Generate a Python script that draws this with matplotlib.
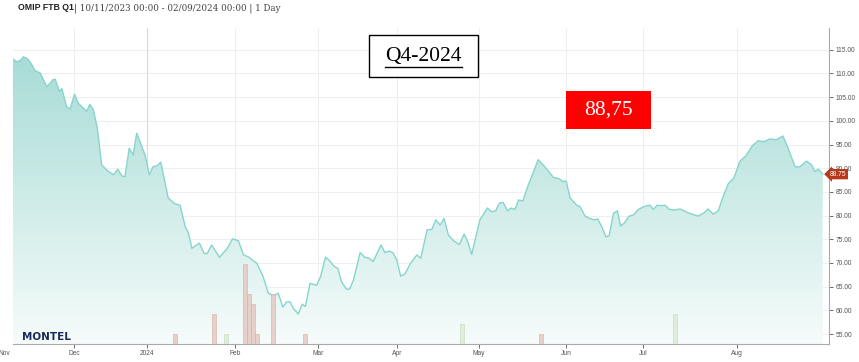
import matplotlib
matplotlib.use("Agg")
import matplotlib.pyplot as plt
import matplotlib.transforms as mtransforms
from matplotlib.patches import Rectangle
import numpy as np

# Price series on a trading-session axis (0 = 10/11/2023)
session = [0, 0.9, 1.8, 2.6, 3.5, 4.3, 5.6, 6.9, 8.6, 10.2, 10.7, 11.8, 12.4, 13.6, 14.5,
           15.6, 16.6, 18.7, 19.5, 20.4, 21.4, 22.5, 23.8, 25.5, 26.6, 27.6, 28.4, 29.5,
           30.5, 31.4, 32.7, 33.5, 34.6, 35.5, 36.5, 37.5, 39.4, 41.1, 42.4, 43.7, 44.5,
           45.4, 47.3, 48.5, 49.3, 50.4, 52.4, 54.4, 55.7, 57.2, 58.5, 59.7, 61.9, 63.5,
           64.8, 66.1, 67.3, 68.5, 69.5, 70.3, 71.1, 72.4, 73.4, 74.2, 75.4, 77.1, 78.1,
           79.3, 80.1, 81.5, 82.4, 83.4, 84.7, 85.5, 86.4, 88.1, 89.3, 90.4, 91.4, 93.4,
           94.4, 95.5, 96.4, 97.4, 98.4, 99.5, 100.8, 102.5, 103.5, 105.1, 106.3, 107.3,
           108.4, 109.4, 110.5, 111.8, 113.3, 114.5, 115.4, 116.4, 117.3, 118.5, 120.4,
           121.5, 122.5, 123.4, 124.4, 125.5, 126.4, 127.4, 128.3, 129.4, 130.4, 131.6,
           133.3, 135.0, 137.1, 138.8, 139.5, 140.4, 141.4, 143.1, 143.9, 145.2, 146.4,
           147.5, 148.4, 149.4, 150.5, 151.3, 152.4, 153.4, 154.2, 155.1, 156.4, 157.4,
           158.7, 160.4, 161.7, 162.5, 163.5, 164.6, 165.5, 166.6, 168.0, 169.3, 170.8,
           172.3, 173.9, 175.4, 176.4, 177.7, 179.0, 180.0, 181.5, 183.0, 184.5, 186.0,
           187.6, 189.1, 190.6, 192.1, 193.7, 195.4, 196.4, 198.5, 199.7, 201.4, 202.7,
           203.5, 204.4, 205.5]
price = [113.0, 112.5, 112.7, 113.5, 113.2, 112.5, 110.6, 110.1, 107.2, 108.7, 108.8,
         106.2, 106.8, 103.0, 102.5, 105.6, 103.7, 102.0, 103.5, 102.3, 98.5, 90.7, 89.6,
         88.6, 89.8, 88.4, 88.2, 94.2, 92.8, 97.4, 94.6, 92.8, 88.6, 90.3, 90.5, 91.3,
         83.7, 82.5, 82.2, 77.7, 76.4, 73.1, 74.2, 72.0, 72.0, 73.8, 71.2, 73.1, 75.1,
         74.7, 71.7, 71.3, 69.9, 67.1, 63.6, 63.1, 63.6, 60.7, 61.8, 61.8, 60.5, 59.2,
         61.3, 60.8, 65.7, 65.3, 67.2, 71.2, 70.7, 69.3, 68.9, 66.0, 64.4, 64.6, 66.4,
         72.2, 71.2, 71.0, 70.3, 73.8, 72.2, 72.5, 72.2, 70.6, 67.2, 67.7, 69.8, 71.7,
         71.0, 77.0, 77.1, 79.1, 78.0, 79.4, 75.9, 74.7, 73.9, 76.1, 74.5, 71.8, 74.9,
         79.1, 81.6, 80.8, 81.0, 82.6, 82.8, 81.0, 81.6, 81.3, 83.3, 83.1, 85.6, 88.2,
         91.8, 90.3, 88.1, 87.7, 87.2, 87.3, 83.7, 82.2, 81.9, 79.9, 79.4, 79.1, 79.3,
         77.7, 75.5, 75.8, 80.5, 81.0, 77.8, 78.4, 79.9, 80.1, 81.3, 82.0, 82.2, 81.3,
         82.2, 82.1, 82.2, 81.3, 81.2, 81.4, 80.8, 80.3, 79.9, 80.6, 81.4, 80.3, 81.0,
         83.5, 86.7, 88.0, 91.5, 92.6, 94.7, 95.8, 95.6, 96.2, 96.0, 96.8, 94.9, 90.3,
         90.3, 91.5, 90.7, 89.3, 89.8, 88.75]

# Volume bars (session, volume, up/down)
vol_session = [41, 51, 54, 59, 60, 61, 62, 66, 74, 114, 134, 168]
vol_value = [1, 3, 1, 8, 5, 4, 1, 5, 1, 2, 1, 3]
vol_up = [False, False, True, False, False, False, False, False, False, True, False, True]

# Month ticks on the session axis
month_pos = [15.5, 34.0, 56.3, 77.4, 97.5, 118.3, 140.4, 159.9, 183.8]
month_lab = ["Dec", "2024", "Feb", "Mar", "Apr", "May", "Jun", "Jul", "Aug"]
price_ticks = [55, 60, 65, 70, 75, 80, 85, 90, 95, 100, 105, 110, 115]

last_price = 88.75
XMIN, XMAX = 0, 207.1
YMIN, YMAX = 52.9, 119.6

W, H = 859, 362


def fx(px):
    return px / W


def fy(py):
    return 1 - py / H


fig = plt.figure(figsize=(8.59, 3.62), dpi=100)
ax = fig.add_axes([fx(13), 18 / H, 816 / W, 316 / H])
ax.set_xlim(XMIN, XMAX)
ax.set_ylim(YMIN, YMAX)

# grid
for p in price_ticks:
    ax.axhline(p, color="#efefef", lw=0.8, zorder=0)
for m, lab in zip(month_pos, month_lab):
    ax.axvline(m, color="#dcdcdc" if lab == "2024" else "#efefef",
               lw=0.9 if lab == "2024" else 0.8, zorder=0)

# gradient area under the line
poly = ax.fill_between(session, price, YMIN, color="none", lw=0)
top_c = np.array([166, 219, 213]) / 255
bot_c = np.array([246, 252, 251]) / 255
t = np.linspace(0, 1, 256)[:, None]
grad = (top_c * (1 - t) + bot_c * t)[:, None, :]
img = ax.imshow(grad, extent=[XMIN, XMAX, YMIN, 115], origin="upper", aspect="auto", zorder=1)
img.set_clip_path(poly.get_paths()[0], transform=ax.transData)
ax.plot(session, price, color="#86d5cd", lw=1.0, zorder=3)

# volume on a hidden twin axis
ax2 = ax.twinx()
ax2.set_ylim(0, 31.6)
ax2.set_axis_off()
cols = ["#dcebd6" if u else "#e5c9c2" for u in vol_up]
edges = ["#c5dcbd" if u else "#d6b0a6" for u in vol_up]
ax2.bar(vol_session, vol_value, width=1.0, color=cols, edgecolor=edges, lw=0.5, alpha=0.85, zorder=2)

# axes styling
ax.yaxis.tick_right()
ax.set_yticks(price_ticks)
ax.set_yticklabels(["%.2f" % p for p in price_ticks], family="Liberation Sans")
ax.set_xticks(month_pos)
ax.set_xticklabels(month_lab, family="Liberation Sans")
ax.tick_params(axis="both", labelsize=4.8, colors="#555555", length=3, width=0.6, pad=1.5)
for s in ["top", "left"]:
    ax.spines[s].set_visible(False)
for s in ["right", "bottom"]:
    ax.spines[s].set_color("#aaaaaa")
    ax.spines[s].set_linewidth(0.8)

# "Nov" label at the left edge (partly cut off, as on the source)
ax.text(-2.2, -0.018, "Nov", transform=mtransforms.blended_transform_factory(ax.transData, ax.transAxes),
        ha="center", va="top", fontsize=4.8, family="Liberation Sans", color="#555555", clip_on=False)

# last price tag on the right axis
ax.text(1.001, last_price, "%.2f" % last_price,
        transform=mtransforms.blended_transform_factory(ax.transAxes, ax.transData),
        ha="left", va="center", fontsize=4.8, family="Liberation Sans", color="white",
        bbox=dict(boxstyle="larrow,pad=0.25", fc="#b8391a", ec="none"), zorder=5, clip_on=False)

# header
fig.text(fx(18), fy(8), "OMIP FTB Q1", fontsize=6.3, fontweight="bold",
         family="Liberation Sans", color="#222222", va="center")
fig.text(fx(74), fy(8), "| 10/11/2023 00:00 - 02/09/2024 00:00 | 1 Day", fontsize=6.3,
         family="DejaVu Serif", color="#444444", va="center")

# MONTEL logo
fig.text(fx(22), fy(337), "MONTEL", fontsize=7.5, fontweight="heavy",
         family="DejaVu Sans", color="#1b2a5c", va="center")

# annotation boxes
fig.add_artist(Rectangle((fx(369), fy(77)), 109 / W, 42 / H, transform=fig.transFigure,
                         fc="white", ec="black", lw=1.0, zorder=6))
fig.text(fx(423.5), fy(57), "Q4-2024", fontsize=15.5, family="Liberation Serif",
         ha="center", va="center", color="black", zorder=7)
fig.add_artist(plt.Line2D([fx(385), fx(462)], [fy(66.5), fy(66.5)], color="black", lw=1.0, zorder=7))

fig.add_artist(Rectangle((fx(566), fy(129)), 85 / W, 38 / H, transform=fig.transFigure,
                         fc="#ff0000", ec="none", zorder=6))
fig.text(fx(608.5), fy(110), "88,75", fontsize=15.5, family="Liberation Serif",
         ha="center", va="center", color="white", zorder=7)

fig.savefig("out.png", dpi=100)
